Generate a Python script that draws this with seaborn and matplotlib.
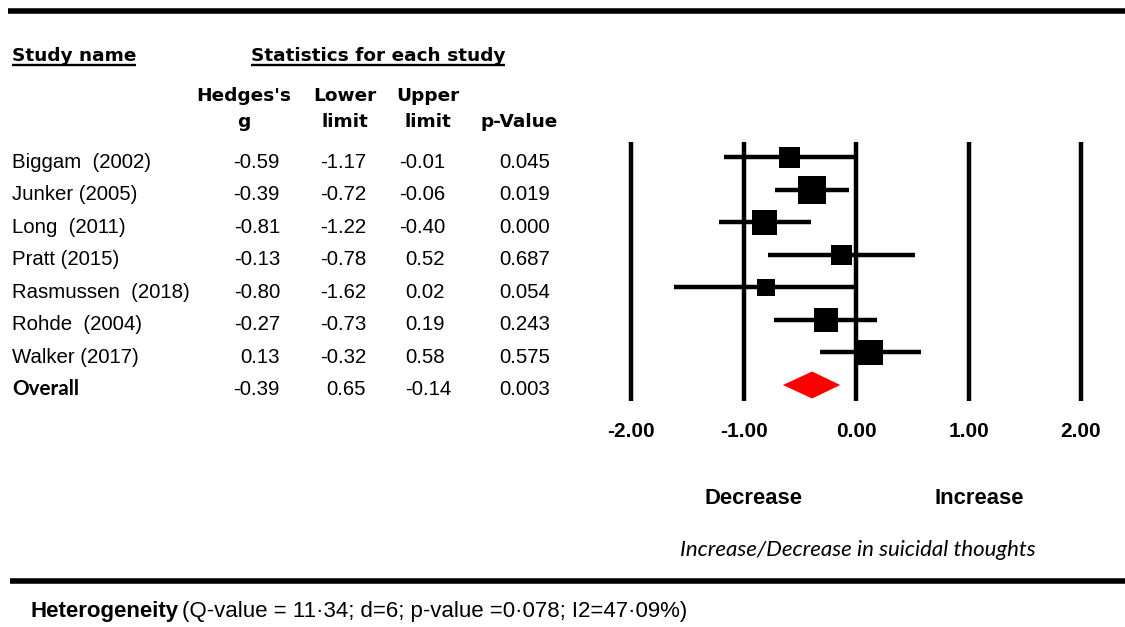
import matplotlib
matplotlib.use("Agg")
import matplotlib.pyplot as plt
import seaborn as sns
import pandas as pd
from matplotlib.patches import Polygon
from matplotlib import transforms

# ---- study-level results -------------------------------------------------
studies = ["Biggam  (2002)", "Junker (2005)", "Long  (2011)", "Pratt (2015)",
           "Rasmussen  (2018)", "Rohde  (2004)", "Walker (2017)"]
hedges_g = [-0.59, -0.39, -0.81, -0.13, -0.80, -0.27, 0.13]
lower_limit = [-1.17, -0.72, -1.22, -0.78, -1.62, -0.73, -0.32]
upper_limit = [-0.01, -0.06, -0.40, 0.52, 0.02, 0.19, 0.58]
p_values = [0.045, 0.019, 0.000, 0.687, 0.054, 0.243, 0.575]
weights = [11.4, 20.8, 16.5, 11.4, 8.3, 15.1, 16.5]   # relative weight (%)

# ---- pooled estimate ----------------------------------------------------
overall_g = -0.39
overall_lower = -0.65
overall_upper = -0.14
overall_p = 0.003
overall_cells = ["-0.39", "0.65", "-0.14", "0.003"]   # summary row as printed

axis_ticks = [-2.0, -1.0, 0.0, 1.0, 2.0]
heterogeneity_note = "(Q-value = 11\u00b734; d=6; p-value =0\u00b7078; I2=47\u00b709%)"

sns.set_theme(style="white")
plt.rcParams["font.family"] = ["Liberation Sans", "DejaVu Sans"]
plt.rcParams["text.color"] = "black"

W, H = 1125, 627
fig = plt.figure(figsize=(W / 100, H / 100), dpi=100)
fig.patch.set_facecolor("white")

# page axes in pixel units (y grows downward)
ax_bg = fig.add_axes([0, 0, 1, 1])
ax_bg.set_xlim(0, W)
ax_bg.set_ylim(H, 0)
ax_bg.axis("off")

# forest axes: x in effect-size units, y in row index
ax = fig.add_axes([0, 0, 1, 1])
ax.patch.set_alpha(0)
px_per_unit = 112.5
x_at_minus2 = 631
row0_px, row_step = 157.5, 32.5
ax.set_xlim(-2 - x_at_minus2 / px_per_unit, (W - x_at_minus2) / px_per_unit - 2)
ax.set_ylim((H - row0_px) / row_step, -row0_px / row_step)
ax.axis("off")

# blended transform: x in page pixels, y in row index
tr = transforms.blended_transform_factory(ax_bg.transData, ax.transData)

n = len(studies)
rows = list(range(n))
df = pd.DataFrame({"study": studies, "g": hedges_g, "lo": lower_limit,
                   "hi": upper_limit, "p": p_values, "w": weights, "row": rows})

# vertical reference lines
ax.vlines(axis_ticks, -0.48, n + 0.48, color="black", lw=3.2, zorder=1)

# confidence intervals
ax.hlines(df["row"], df["lo"], df["hi"], color="black", lw=3.2, zorder=2)

# weighted point estimates (area proportional to weight)
c = 19.5
sns.scatterplot(data=df, x="g", y="row", size="w",
                sizes=(c * min(weights), c * max(weights)),
                size_norm=(min(weights), max(weights)),
                marker="s", color="black", edgecolor="black", linewidth=0,
                legend=False, ax=ax, zorder=3)

# pooled diamond
half_h = 13.5 / row_step
ax.add_patch(Polygon([(overall_lower, n), (overall_g, n - half_h),
                      (overall_upper, n), (overall_g, n + half_h)],
                     closed=True, facecolor="#ff0000", edgecolor="none", zorder=3))

# axis labels under the plot
tick_row = (432 - row0_px) / row_step
for t in axis_ticks:
    ax.text(t, tick_row, f"{t:.2f}", ha="center", va="center",
            fontsize=15, fontweight="bold")

# ---- table ---------------------------------------------------------------
hdr = dict(family=["DejaVu Sans"], fontweight="bold", fontsize=13.3)
t1 = ax_bg.text(12, 61, "Study name", ha="left", va="baseline", **hdr)
t2 = ax_bg.text(378, 61, "Statistics for each study", ha="center", va="baseline", **hdr)
for lbl, x in [("Hedges's", 244), ("Lower", 345), ("Upper", 428)]:
    ax_bg.text(x, 96, lbl, ha="center", va="center", **hdr)
for lbl, x in [("g", 244), ("limit", 345), ("limit", 428), ("p-Value", 519)]:
    ax_bg.text(x, 122, lbl, ha="center", va="center", **hdr)

fig.canvas.draw()
inv = ax_bg.transData.inverted()
for t in (t1, t2):
    bb = t.get_window_extent()
    x0 = inv.transform((bb.x0, bb.y0))[0]
    x1 = inv.transform((bb.x1, bb.y0))[0]
    ax_bg.plot([x0, x1], [64.5, 64.5], color="black", lw=1.7, solid_capstyle="butt")

base_off = 10.5 / row_step          # text baseline sits below the bar centre
col_x = [280, 366, 445, 550]
cell = dict(fontsize=14.7, va="baseline")
for r in df.itertuples():
    y = r.row + base_off
    ax_bg.text(12, y, r.study, ha="left", transform=tr, **cell)
    vals = [f"{r.g:.2f}", f"{r.lo:.2f}", f"{r.hi:.2f}", f"{r.p:.3f}"]
    for v, x in zip(vals, col_x):
        ax_bg.text(x, y, v, ha="right", transform=tr, **cell)

y = n + base_off
ax_bg.text(12, y, "Overall", ha="left", transform=tr, fontsize=14.9,
           fontweight="bold", family=["Lato", "DejaVu Sans"], va="baseline")
for v, x in zip(overall_cells, [280, 366, 451, 550]):
    ax_bg.text(x, y, v, ha="right", transform=tr, **cell)

# direction labels and caption
ax_bg.text(754, 499, "Decrease", ha="center", va="center", fontsize=15.8, fontweight="bold")
ax_bg.text(979, 499, "Increase", ha="center", va="center", fontsize=15.8, fontweight="bold")
ax_bg.text(858, 550, "Increase/Decrease in suicidal thoughts", ha="center", va="center",
           fontsize=16, style="italic", family=["Lato", "DejaVu Sans"])

# horizontal rules
ax_bg.plot([8, W], [10.5, 10.5], color="black", lw=4, solid_capstyle="butt")
ax_bg.plot([10, W], [580.5, 580.5], color="black", lw=4, solid_capstyle="butt")

# heterogeneity footnote
th = ax_bg.text(30, 611, "Heterogeneity", ha="left", va="center", fontsize=16,
                fontweight="bold")
fig.canvas.draw()
bb = th.get_window_extent()
xe = inv.transform((bb.x1, bb.y0))[0]
ax_bg.text(xe + 4, 611, heterogeneity_note, ha="left", va="center", fontsize=16)

fig.savefig("out.png", dpi=100, facecolor="white")
